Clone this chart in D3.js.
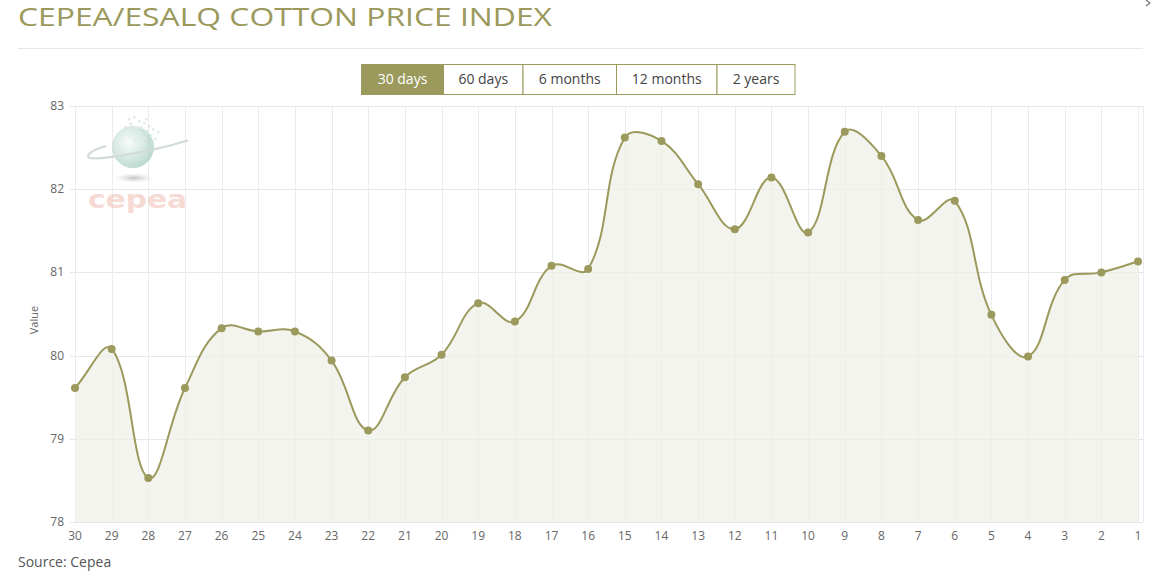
<!DOCTYPE html>
<html>
<head>
<meta charset="utf-8">
<script src="https://cdn.jsdelivr.net/npm/d3@7"></script>
<style>
  html, body { margin: 0; padding: 0; background: #fff; }
  svg { display: block; font-family: "Open Sans", sans-serif; }
</style>
</head>
<body>
<svg id="chart" width="1151" height="574"></svg>
<script>
// ---- data ----
const categories = ["30","29","28","27","26","25","24","23","22","21","20","19","18","17","16","15","14","13","12","11","10","9","8","7","6","5","4","3","2","1"];
const values = [79.61,80.08,78.53,79.61,80.33,80.29,80.29,79.94,79.10,79.74,80.01,80.63,80.41,81.08,81.04,82.62,82.58,82.06,81.52,82.14,81.48,82.69,82.40,81.63,81.86,80.49,79.99,80.91,81.00,81.13];
const yTicks = [78,79,80,81,82,83];
const buttonLabels = ["30 days","60 days","6 months","12 months","2 years"];
const titleText = "CEPEA/ESALQ COTTON PRICE INDEX";
const sourceText = "Source: Cepea";
const yAxisTitle = "Value";

// ---- layout ----
const svg = d3.select("#chart");
const olive = "#9b995c";
const plot = { left: 75, right: 1143, top: 106, bottom: 522 };

const x = d3.scalePoint().domain(categories).range([plot.left, 1138]);
const y = d3.scaleLinear().domain([78, 83]).range([plot.bottom, plot.top]);

// title
svg.append("text").attr("x", 18).attr("y", 26)
  .attr("fill", olive).attr("font-size", 25).attr("textLength", 534)
  .attr("lengthAdjust", "spacingAndGlyphs").text(titleText);
svg.append("line").attr("x1", 18).attr("x2", 1143).attr("y1", 48.5).attr("y2", 48.5)
  .attr("stroke", "#e6e6e6");
// corner chevron (partial icon)
svg.append("path").attr("d", "M1146,0 L1150,3 L1146,6").attr("fill", "none")
  .attr("stroke", "#777").attr("stroke-width", 1.3);

// buttons
const btnEdges = [361, 443, 522.5, 616, 716.5, 794.5];
const btnG = svg.append("g");
buttonLabels.forEach((lab, i) => {
  const x0 = btnEdges[i], x1 = btnEdges[i + 1];
  btnG.append("rect").attr("x", x0 + 0.5).attr("y", 64.5).attr("width", x1 - x0).attr("height", 30)
    .attr("fill", i === 0 ? olive : "#fff").attr("stroke", olive).attr("stroke-width", 1);
  btnG.append("text").attr("x", (x0 + x1) / 2 + 0.5).attr("y", 84).attr("text-anchor", "middle")
    .attr("font-size", 14).attr("fill", i === 0 ? "#fff" : "#444").text(lab);
});

// plot background / grid
const grid = svg.append("g");
grid.selectAll("line.h").data(yTicks).join("line")
  .attr("x1", 70).attr("x2", plot.right)
  .attr("y1", d => Math.round(y(d)) + 0.5).attr("y2", d => Math.round(y(d)) + 0.5)
  .attr("stroke", "#e6e6e6");
grid.selectAll("line.v").data(categories).join("line")
  .attr("x1", d => Math.round(x(d)) + 0.5).attr("x2", d => Math.round(x(d)) + 0.5)
  .attr("y1", plot.top).attr("y2", plot.bottom)
  .attr("stroke", "#ececec");
grid.append("line").attr("x1", plot.right + 0.5).attr("x2", plot.right + 0.5)
  .attr("y1", plot.top).attr("y2", plot.bottom).attr("stroke", "#ececec");

// logo (watermark)
const logo = svg.append("g").attr("opacity", 0.6);
const defs = svg.append("defs");
const rg = defs.append("radialGradient").attr("id", "globe").attr("cx", "40%").attr("cy", "40%").attr("r", "65%");
rg.append("stop").attr("offset", "0%").attr("stop-color", "#f4faf7");
rg.append("stop").attr("offset", "55%").attr("stop-color", "#bcdccf");
rg.append("stop").attr("offset", "100%").attr("stop-color", "#8dbfab");
const sg = defs.append("radialGradient").attr("id", "shadow");
sg.append("stop").attr("offset", "0%").attr("stop-color", "#999");
sg.append("stop").attr("offset", "100%").attr("stop-color", "#ddd").attr("stop-opacity", 0.2);
logo.append("ellipse").attr("cx", 134).attr("cy", 178).attr("rx", 18).attr("ry", 4.5).attr("fill", "url(#shadow)");
logo.append("circle").attr("cx", 133).attr("cy", 147).attr("r", 21).attr("fill", "url(#globe)");
logo.append("path").attr("d", "M186,141 C150,152 100,160 90,158 C84,156 92,150 106,146")
  .attr("fill", "none").attr("stroke", "#b5c4bf").attr("stroke-width", 2.2);
logo.append("circle").attr("cx", 187).attr("cy", 141).attr("r", 1.3).attr("fill", "#b5c4bf");
const pix = [[128,118],[133,116],[138,120],[143,122],[148,125],[152,128],[157,131],[130,124],[135,127],[140,126],[146,130],[150,134],[126,130],[132,133],[138,134],[143,137],[134,139],[140,141],[129,122],[145,118],[154,138],[124,126]];
logo.selectAll("rect.px").data(pix).join("rect")
  .attr("x", d => d[0]).attr("y", d => d[1]).attr("width", 2.5).attr("height", 2.5).attr("fill", "#d0e2dc");
logo.append("text").attr("x", 88).attr("y", 208).attr("font-size", 25).attr("font-family", "DejaVu Sans")
  .attr("font-weight", "bold").attr("textLength", 99).attr("lengthAdjust", "spacingAndGlyphs")
  .attr("fill", "#f2c3b8").text("cepea");

// area + spline (tension-based bezier spline, tension 0.4)
function splinePath(pts, t) {
  const ctrl = pts.map((cur, i) => {
    const prev = pts[i - 1] || cur, next = pts[i + 1] || cur;
    const d01 = Math.hypot(cur[0] - prev[0], cur[1] - prev[1]);
    const d12 = Math.hypot(next[0] - cur[0], next[1] - cur[1]);
    let s01 = d01 / (d01 + d12), s12 = d12 / (d01 + d12);
    if (isNaN(s01)) s01 = 0; if (isNaN(s12)) s12 = 0;
    const fa = t * s01, fb = t * s12;
    const clampY = v => Math.max(plot.top, Math.min(plot.bottom, v));
    return {
      prev: [cur[0] - fa * (next[0] - prev[0]), clampY(cur[1] - fa * (next[1] - prev[1]))],
      next: [cur[0] + fb * (next[0] - prev[0]), clampY(cur[1] + fb * (next[1] - prev[1]))]
    };
  });
  let d = `M${pts[0][0]},${pts[0][1]}`;
  for (let i = 1; i < pts.length; i++) {
    const a = ctrl[i - 1].next, b = ctrl[i].prev;
    d += `C${a[0]},${a[1]},${b[0]},${b[1]},${pts[i][0]},${pts[i][1]}`;
  }
  return d;
}
const pts = categories.map((c, i) => [x(c), y(values[i])]);
const lineD = splinePath(pts, 0.4);
const areaD = lineD + `L${pts[pts.length - 1][0]},${plot.bottom}L${pts[0][0]},${plot.bottom}Z`;
svg.append("path").attr("d", areaD).attr("fill", "#f0f0e8").attr("fill-opacity", 0.75);
svg.append("path").attr("d", lineD).attr("fill", "none").attr("stroke", olive).attr("stroke-width", 2);
svg.selectAll("circle.pt").data(values).join("circle")
  .attr("cx", (d, i) => x(categories[i])).attr("cy", d => y(d)).attr("r", 4).attr("fill", olive);

// axes labels
svg.append("g").selectAll("text").data(yTicks).join("text")
  .attr("x", 64).attr("y", d => y(d) + 4).attr("text-anchor", "end")
  .attr("font-size", 12).attr("fill", "#666").text(d => d);
svg.append("g").selectAll("text").data(categories).join("text")
  .attr("x", d => x(d)).attr("y", 540).attr("text-anchor", "middle")
  .attr("font-size", 12).attr("fill", "#666").text(d => d);
svg.append("text").attr("transform", "translate(38,320) rotate(-90)").attr("text-anchor", "middle")
  .attr("font-size", 11).attr("fill", "#666").text(yAxisTitle);

// source
svg.append("text").attr("x", 18).attr("y", 567).attr("font-size", 14).attr("fill", "#555").text(sourceText);
</script>
</body>
</html>
